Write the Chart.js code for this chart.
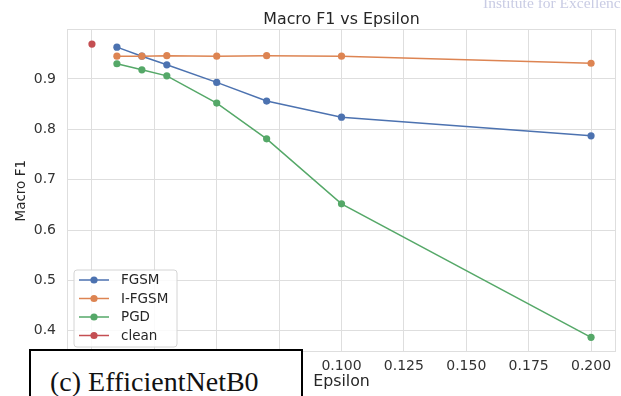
<!DOCTYPE html>
<html>
<head>
<meta charset="utf-8">
<script src="https://cdn.jsdelivr.net/npm/chart.js@4/dist/chart.umd.min.js"></script>
<style>
html,body{margin:0;padding:0;background:#fff;}
#wrap{position:relative;width:621px;height:396px;overflow:hidden;background:#fff;}
#c{position:absolute;left:0;top:0;}
#wm{position:absolute;left:483px;top:-5px;font:15.5px "Liberation Serif",serif;color:#c9cce4;white-space:nowrap;line-height:15px;}
#capbox{position:absolute;left:29px;top:349px;width:274px;height:70px;box-sizing:border-box;border:2px solid #000;background:#fff;}
#captext{position:absolute;left:50px;top:368px;font:28px "Liberation Serif",serif;line-height:28px;color:#111;white-space:nowrap;}
</style>
</head>
<body>
<div id="wrap">
  <canvas id="c" width="621" height="396"></canvas>
  <div id="wm">Institute for Excellence</div>
  <div id="capbox"></div>
  <div id="captext">(c) EfficientNetB0</div>
</div>
<script>
// ---- data ----
const epsilon  = [0.01, 0.02, 0.03, 0.05, 0.07, 0.10, 0.20];
const fgsmF1   = [0.963, 0.945, 0.928, 0.893, 0.856, 0.824, 0.787];
const ifgsmF1  = [0.945, 0.945, 0.946, 0.945, 0.946, 0.945, 0.931];
const pgdF1    = [0.930, 0.918, 0.906, 0.852, 0.781, 0.652, 0.387];
const cleanEps = [0.0];
const cleanF1  = [0.969];
const seriesNames = ['FGSM', 'I-FGSM', 'PGD', 'clean'];
const xTicks = [0.000, 0.025, 0.050, 0.075, 0.100, 0.125, 0.150, 0.175, 0.200];
const yTicks = [0.4, 0.5, 0.6, 0.7, 0.8, 0.9];
const titleText = 'Macro F1 vs Epsilon';
const xLabel = 'Epsilon';
const yLabel = 'Macro F1';

const colors = ['#4C72B0', '#DD8452', '#55A868', '#C44E52'];
const FONT = "'DejaVu Sans', sans-serif";
const GRID = '#dedede';

function pts(xs, ys) { return xs.map((x, i) => ({x: x, y: ys[i]})); }

const seriesData = [pts(epsilon, fgsmF1), pts(epsilon, ifgsmF1), pts(epsilon, pgdF1), pts(cleanEps, cleanF1)];

const datasets = seriesData.map((d, i) => ({
  label: seriesNames[i],
  data: d,
  borderColor: colors[i],
  backgroundColor: colors[i],
  pointBackgroundColor: colors[i],
  pointBorderColor: colors[i],
  pointBorderWidth: 0,
  pointRadius: 3.6,
  borderWidth: 1.5,
  tension: 0,
  order: 4 - i,
  clip: false
}));

const framePlugin = {
  id: 'frame',
  beforeDatasetsDraw(chart) {
    const {ctx, chartArea: a} = chart;
    ctx.save();
    ctx.strokeStyle = GRID;
    ctx.lineWidth = 1;
    ctx.strokeRect(Math.round(a.left) + 0.5, Math.round(a.top) + 0.5, Math.round(a.right - a.left) - 1, Math.round(a.bottom - a.top) - 1);
    ctx.restore();
  }
};

const legendPlugin = {
  id: 'mplLegend',
  afterDraw(chart) {
    const ctx = chart.ctx;
    const bx = 74, by = 270, bw = 103, bh = 77, r = 3;
    ctx.save();
    ctx.beginPath();
    ctx.moveTo(bx + r, by);
    ctx.arcTo(bx + bw, by, bx + bw, by + bh, r);
    ctx.arcTo(bx + bw, by + bh, bx, by + bh, r);
    ctx.arcTo(bx, by + bh, bx, by, r);
    ctx.arcTo(bx, by, bx + bw, by, r);
    ctx.closePath();
    ctx.fillStyle = 'rgba(255,255,255,0.85)';
    ctx.fill();
    ctx.strokeStyle = '#d4d4d4';
    ctx.lineWidth = 1;
    ctx.stroke();
    const rows = [280, 298.5, 317, 335.5];
    chart.data.datasets.forEach((ds, i) => {
      const y = rows[i];
      ctx.strokeStyle = ds.borderColor;
      ctx.lineWidth = 1.5;
      ctx.beginPath();
      ctx.moveTo(79, y);
      ctx.lineTo(109, y);
      ctx.stroke();
      ctx.fillStyle = ds.borderColor;
      ctx.beginPath();
      ctx.arc(94, y, 3.6, 0, Math.PI * 2);
      ctx.fill();
      ctx.fillStyle = '#262626';
      ctx.font = "13.5px " + FONT;
      ctx.textBaseline = 'middle';
      ctx.textAlign = 'left';
      ctx.fillText(ds.label, 121, y + 0.5);
    });
    ctx.restore();
  }
};

new Chart(document.getElementById('c'), {
  type: 'line',
  data: {datasets: datasets},
  options: {
    responsive: false,
    animation: false,
    devicePixelRatio: 1,
    layout: {padding: {left: 0, right: 5, top: 0, bottom: 0}},
    plugins: {
      legend: {display: false},
      tooltip: {enabled: false},
      title: {
        display: true, text: titleText, fullSize: false,
        color: '#262626',
        font: {family: FONT, size: 15.8, weight: 'normal', lineHeight: 1.2},
        padding: {top: 10.5, bottom: 0}
      }
    },
    scales: {
      x: {
        type: 'linear', min: -0.01, max: 0.21,
        afterBuildTicks: s => { s.ticks = xTicks.map(v => ({value: v})); },
        afterFit: s => { s.height = 44; },
        grid: {color: GRID, lineWidth: 1, drawTicks: false},
        border: {display: false},
        ticks: {
          padding: 6, color: '#333', autoSkip: false, maxRotation: 0,
          font: {family: FONT, size: 14},
          callback: v => Number(v).toFixed(3)
        },
        title: {
          display: true, text: xLabel, color: '#262626',
          font: {family: FONT, size: 15.8, lineHeight: 1.2},
          padding: {top: 0, bottom: 5}
        }
      },
      y: {
        type: 'linear', min: 0.3579, max: 0.9981,
        afterBuildTicks: s => { s.ticks = yTicks.map(v => ({value: v})); },
        afterFit: s => { s.width = 67; },
        grid: {color: GRID, lineWidth: 1, drawTicks: false},
        border: {display: false},
        ticks: {
          padding: 11, color: '#333', autoSkip: false,
          font: {family: FONT, size: 14},
          callback: v => Number(v).toFixed(1)
        },
        title: {
          display: true, text: yLabel, color: '#262626',
          font: {family: FONT, size: 13.5, lineHeight: 1.2},
          padding: {top: 13, bottom: 0}
        }
      }
    }
  },
  plugins: [framePlugin, legendPlugin]
});
</script>
</body>
</html>
